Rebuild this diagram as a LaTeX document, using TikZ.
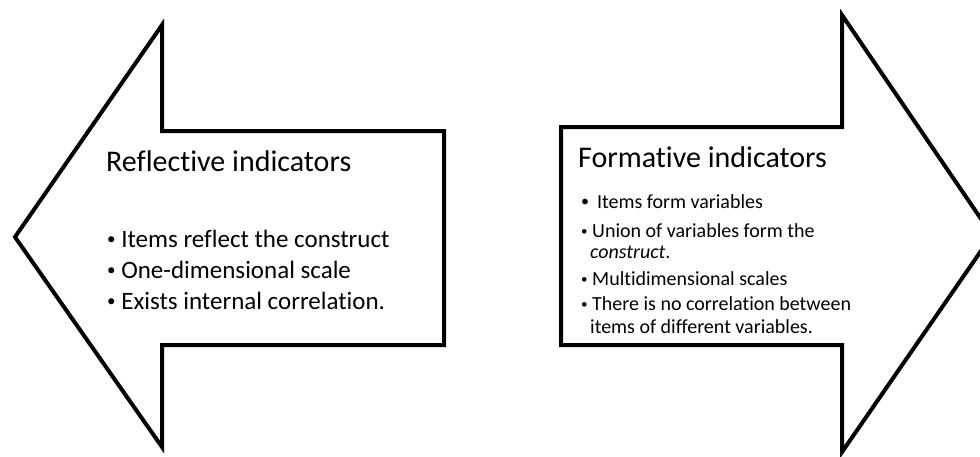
\documentclass[tikz,border=0pt]{standalone}
\usepackage{fontspec}
\setmainfont{Carlito}[Ligatures=NoCommon]
\newcommand{\smallbul}[1]{{\fontsize{#1}{#1}\selectfont\raisebox{0.12em}{•}}}
\begin{document}
\begin{tikzpicture}[x=1pt,y=-1pt,
  outline/.style={draw=black,line width=4pt,line join=miter,fill=white},
  title/.style={anchor=base west,inner sep=0pt,font=\fontsize{30}{30}\selectfont},
  bigitem/.style={anchor=base west,inner sep=0pt,font=\fontsize{25}{25}\selectfont},
  smallitem/.style={anchor=base west,inner sep=0pt,font=\fontsize{20}{20}\selectfont}]
\useasboundingbox (0,0) rectangle (980,456);
\clip (0,0) rectangle (980,456);
% left-pointing arrow
\draw[outline] (444,131) -- (162,131) -- (162,25) -- (15,237) -- (162,447)
  -- (162,345) -- (444,345) -- cycle;
% right-pointing arrow
\draw[outline] (561,127) -- (842,127) -- (842,15) -- (992,235) -- (842,452)
  -- (842,345) -- (561,345) -- cycle;
% reflective indicators
\node[title] (rt) at (106,171) {Reflective indicators};
\node[bigitem] (r1) at (107,247) {\smallbul{17}\ Items reflect the construct};
\node[bigitem] (r2) at (107,278) {\smallbul{17}\ One-dimensional scale};
\node[bigitem] (r3) at (107,309) {\smallbul{17}\ Exists internal correlation.};
% formative indicators
\node[title] (ft) at (578,167) {Formative indicators};
\node[smallitem] (f1) at (581,208) {\smallbul{16}\ \,Items form variables};
\node[smallitem] (f2) at (581,237) {\smallbul{13}\ Union of variables form the};
\node[smallitem] (f3) at (590,258) {\textit{construct}.};
\node[smallitem] (f4) at (581,285) {\smallbul{13}\ Multidimensional scales};
\node[smallitem] (f5) at (581,310) {\smallbul{13}\ There is no correlation between};
\node[smallitem] (f6) at (590,333) {items of different variables.};
\end{tikzpicture}
\end{document}
